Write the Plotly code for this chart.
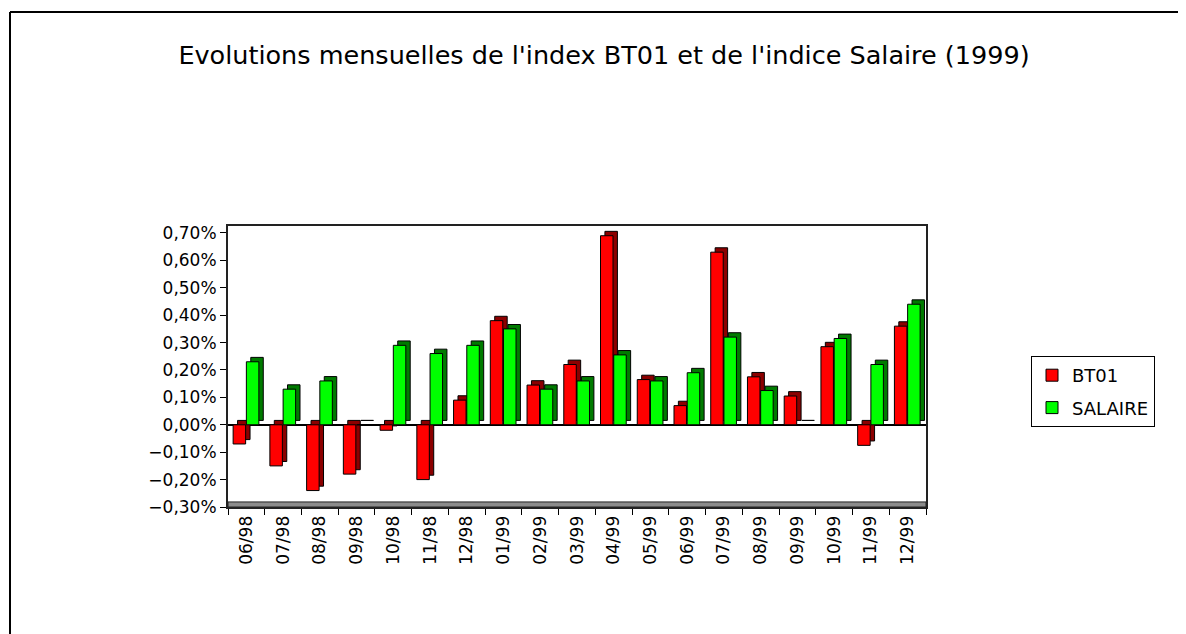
import plotly.graph_objects as go

months = ["06/98", "07/98", "08/98", "09/98", "10/98", "11/98", "12/98",
          "01/99", "02/99", "03/99", "04/99", "05/99", "06/99", "07/99",
          "08/99", "09/99", "10/99", "11/99", "12/99"]
bt01 = [-0.07, -0.15, -0.24, -0.18, -0.02, -0.20, 0.09,
        0.38, 0.145, 0.22, 0.69, 0.165, 0.07, 0.63,
        0.175, 0.105, 0.285, -0.075, 0.36]
salaire = [0.23, 0.13, 0.16, 0.0, 0.29, 0.26, 0.29,
           0.35, 0.13, 0.16, 0.255, 0.16, 0.19, 0.32,
           0.125, 0.0, 0.315, 0.22, 0.44]
y_ticks = [-0.30, -0.20, -0.10, 0.0, 0.10, 0.20, 0.30, 0.40, 0.50, 0.60, 0.70]

# percent -> fraction for % formatting
bt = [v / 100 for v in bt01]
sa = [v / 100 for v in salaire]

W = 0.34          # bar width (category units)
DX = 0.12         # 3D depth horizontal (category units)
DY = 0.00016      # 3D depth vertical (value units)
FONT = "DejaVu Sans, Liberation Sans, Arial, sans-serif"

# figure size compensates the page body's 8px margin
FW, FH = 1178, 626
L, T, R, B = 220, 218, 918, 499
PW, PH = R - L, B - T

fig = go.Figure()
series = [
    ("BT01", bt, "#FF0000", "#8B0000", -0.36),
    ("SALAIRE", sa, "#00FF00", "#007A00", 0.0),
]
for name, vals, col, dark, off in series:
    fig.add_trace(go.Bar(
        x=months, y=vals, base=[DY] * len(vals), offset=off + DX, width=W,
        marker=dict(color=dark, line=dict(color="black", width=1)),
        showlegend=False, hoverinfo="skip", legendgroup=name))
for name, vals, col, dark, off in series:
    fig.add_trace(go.Bar(
        x=months, y=vals, offset=off, width=W, name=name, legendgroup=name,
        marker=dict(color=col, line=dict(color="black", width=1))))

fig.update_layout(
    width=FW, height=FH,
    barmode="overlay",
    separators=", ",
    paper_bgcolor="white", plot_bgcolor="white",
    margin=dict(l=L, r=FW - R, t=T, b=FH - B),
    font=dict(family=FONT, size=17, color="black"),
    title=dict(text="Evolutions mensuelles de l'index BT01 et de l'indice Salaire (1999)",
               x=596 / FW, xref="container", xanchor="center",
               y=1 - 47 / FH, yref="container", yanchor="middle",
               font=dict(family=FONT, size=25.5, color="black")),
    legend=dict(x=(1023 - L) / PW, y=(B - 348) / PH, xanchor="left", yanchor="top",
                bordercolor="black", borderwidth=1, bgcolor="white",
                font=dict(family=FONT, size=18, color="black"),
                itemwidth=30, tracegroupgap=6),
    xaxis=dict(type="category", tickangle=-90, ticks="outside", ticklen=6,
               tickson="boundaries", tickcolor="black",
               showline=True, linecolor="#222", linewidth=2, mirror=True,
               showgrid=False, range=[-0.5, len(months) - 0.5],
               tickfont=dict(family=FONT, size=17, color="black")),
    yaxis=dict(range=[-0.003, 0.007255], tickvals=[v / 100 for v in y_ticks],
               tickformat=".2%", ticks="outside", ticklen=6, tickcolor="black",
               showline=True, linecolor="#222", linewidth=2, mirror=True,
               showgrid=False, zeroline=True, zerolinecolor="black", zerolinewidth=2,
               tickfont=dict(family=FONT, size=17, color="black")),
    shapes=[
        dict(type="rect", xref="paper", yref="paper", x0=0, x1=1, y0=0, y1=0.018,
             fillcolor="#8c8c8c", line=dict(color="#222", width=1), layer="below"),
        dict(type="line", xref="paper", yref="paper", x0=(2 - L) / PW, x1=(2 - L) / PW,
             y0=(B - 640) / PH, y1=(B - 4) / PH, line=dict(color="black", width=2)),
        dict(type="line", xref="paper", yref="paper", x0=(2 - L) / PW, x1=(1200 - L) / PW,
             y0=(B - 4) / PH, y1=(B - 4) / PH, line=dict(color="black", width=2)),
    ],
)

fig.write_html("out.html")
